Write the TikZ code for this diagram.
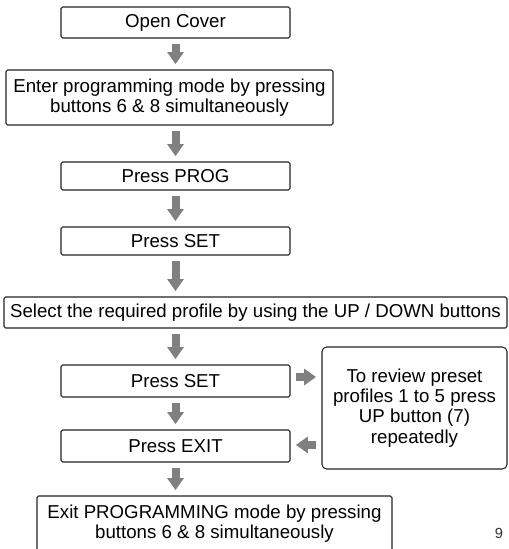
\documentclass[tikz,border=0pt]{standalone}
\usepackage{fontspec}
\setmainfont{Liberation Sans}
\usetikzlibrary{arrows.meta}
\definecolor{arrowgray}{RGB}{128,128,128}
\definecolor{boxline}{RGB}{35,35,35}

\begin{document}
\begin{tikzpicture}
	[x=0.75pt,y=-0.75pt,
	every node/.style={font=\fontsize{14pt}{15.2pt}\selectfont,text=black,align=center},
	stepbox/.style={draw=boxline,line width=0.8pt,rounded corners=1.2pt,inner sep=0pt},
	notebox/.style={draw=boxline,line width=0.8pt,rounded corners=3.5pt,inner sep=0pt},
	flow/.style={draw=arrowgray,line width=6pt,
		-{Triangle[width=12pt,length=9pt]},shorten <=4pt,shorten >=4pt}]
	\useasboundingbox (0,0) rectangle (508,549);
	% main column
	\node[stepbox,minimum width=229*0.75pt,minimum height=31*0.75pt] (open) at (175.5,22.5) {Open Cover};
	\node[stepbox,minimum width=327*0.75pt,minimum height=55*0.75pt] (enter) at (169.5,97.5)
		{Enter programming mode by pressing\\buttons 6 \& 8 simultaneously};
	\node[stepbox,minimum width=229*0.75pt,minimum height=28*0.75pt] (prog) at (175.5,176) {Press PROG};
	\node[stepbox,minimum width=229*0.75pt,minimum height=28*0.75pt] (set) at (175.5,241) {Press SET};
	\node[stepbox,minimum width=503*0.75pt,minimum height=31*0.75pt] (select) at (255.5,312.5)
		{Select the required profile by using the UP / DOWN buttons};
	\node[stepbox,minimum width=229*0.75pt,minimum height=32*0.75pt] (setagain) at (175.5,381) {Press SET};
	\node[stepbox,minimum width=229*0.75pt,minimum height=32*0.75pt] (exit) at (175.5,446) {Press EXIT};
	\node[stepbox,minimum width=355*0.75pt,minimum height=55*0.75pt] (leave) at (214.5,523.5)
		{Exit PROGRAMMING mode by pressing\\buttons 6 \& 8 simultaneously};
	% side note
	\node[notebox,minimum width=185*0.75pt,minimum height=122*0.75pt] (review) at (414.5,408)
		{To review preset\\profiles 1 to 5 press\\UP button (7)\\repeatedly};
	\node[font=\fontsize{11pt}{13pt}\selectfont,text=black!80] (page) at (499,533) {9};
	% arrows
	\draw[flow] (open) -- (open.south |- enter.north);
	\draw[flow] (prog.north |- enter.south) -- (prog);
	\draw[flow] (prog) -- (set);
	\draw[flow] (set) -- (set.south |- select.north);
	\draw[flow] (setagain.north |- select.south) -- (setagain);
	\draw[flow] (setagain) -- (exit);
	\draw[flow] (exit) -- (exit.south |- leave.north);
	\draw[flow] ([yshift=3pt]setagain.east) -- ([yshift=3pt]setagain.east -| review.west);
	\draw[flow] ([yshift=0.8pt]exit.east -| review.west) -- ([yshift=0.8pt]exit.east);
\end{tikzpicture}
\end{document}
